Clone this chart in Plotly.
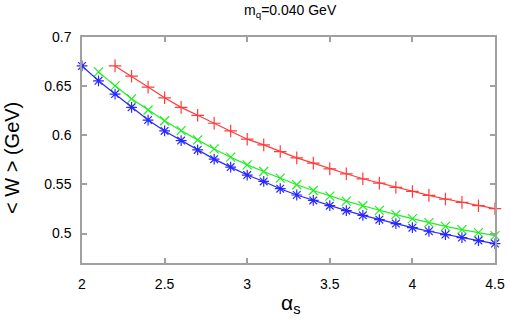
import plotly.graph_objects as go

alpha_blue = [2.0, 2.1, 2.2, 2.3, 2.4, 2.5, 2.6, 2.7, 2.8, 2.9, 3.0, 3.1, 3.2, 3.3, 3.4, 3.5, 3.6, 3.7, 3.8, 3.9, 4.0, 4.1, 4.2, 4.3, 4.4, 4.5]
w_blue = [0.6706, 0.6554, 0.6419, 0.6284, 0.6155, 0.6044, 0.5946, 0.5851, 0.5757, 0.5676, 0.5595,
          0.5530, 0.5456, 0.5392, 0.5337, 0.5283, 0.5233, 0.5185, 0.5141, 0.5101, 0.5060, 0.5023, 0.4989, 0.4959, 0.4928, 0.4898]

alpha_green = [2.1, 2.2, 2.3, 2.4, 2.5, 2.6, 2.7, 2.8, 2.9, 3.0, 3.1, 3.2, 3.3, 3.4, 3.5, 3.6, 3.7, 3.8, 3.9, 4.0, 4.1, 4.2, 4.3, 4.4, 4.5]
w_green = [0.6645, 0.6503, 0.6371, 0.6257, 0.6148, 0.6047, 0.5953, 0.5861, 0.5777, 0.5699,
           0.5631, 0.5564, 0.5496, 0.5438, 0.5381, 0.5330, 0.5283, 0.5236, 0.5192, 0.5151, 0.5111, 0.5073, 0.5040, 0.5009, 0.4979]

alpha_red = [2.2, 2.3, 2.4, 2.5, 2.6, 2.7, 2.8, 2.9, 3.0, 3.1, 3.2, 3.3, 3.4, 3.5, 3.6, 3.7, 3.8, 3.9, 4.0, 4.1, 4.2, 4.3, 4.4, 4.5]
w_red = [0.6706, 0.6601, 0.6490, 0.6381, 0.6284, 0.6203, 0.6122, 0.6044, 0.5960,
         0.5902, 0.5834, 0.5770, 0.5716, 0.5658, 0.5608, 0.5557, 0.5513, 0.5469, 0.5428, 0.5388, 0.5351, 0.5317, 0.5283, 0.5253]

x_ticks = [2, 2.5, 3, 3.5, 4, 4.5]
y_ticks = [0.5, 0.55, 0.6, 0.65, 0.7]

FONT = "Liberation Sans, Arial, sans-serif"

fig = go.Figure()

def add(xs, ys, color, symbol):
    fig.add_trace(go.Scatter(
        x=xs, y=ys, mode="lines+markers",
        line=dict(color=color, width=1.2),
        marker=dict(symbol=symbol, size=9, color=color, line=dict(color=color, width=1.2)),
        showlegend=False, cliponaxis=False,
    ))

add(alpha_red, w_red, "#ff3b3b", "cross-thin-open")
add(alpha_green, w_green, "#22ee22", "x-thin-open")
add(alpha_blue, w_blue, "#2828ff", "asterisk-open")

axis_common = dict(
    showline=True, linecolor="#a0a0a0", linewidth=1.5, mirror="ticks",
    ticks="inside", ticklen=5, tickcolor="#a0a0a0", tickwidth=1.5,
    showgrid=False, zeroline=False, automargin=False,
    tickfont=dict(family=FONT, size=14, color="black"),
)

fig.update_layout(
    width=510, height=326,
    margin=dict(l=82, r=15, t=37, b=63),
    paper_bgcolor="white", plot_bgcolor="white",
    font=dict(family=FONT, color="black"),
    xaxis=dict(range=[2, 4.5], tickvals=x_ticks, ticktext=[str(v) for v in x_ticks],
               ticklabelstandoff=7, **axis_common),
    yaxis=dict(range=[0.47, 0.7], tickvals=y_ticks, ticktext=[f"{v:g}" for v in y_ticks],
               ticklabelstandoff=6, **axis_common),
    annotations=[
        dict(text="m<sub>q</sub>=0.040 GeV", xref="paper", yref="paper",
             x=(290 - 82) / 413, y=(263 - 11) / 226, xanchor="center", yanchor="middle",
             showarrow=False, font=dict(size=14)),
        dict(text="< W > (GeV)", xref="paper", yref="paper", textangle=-90,
             x=(12 - 82) / 413, y=(263 - 158) / 226, xanchor="center", yanchor="middle",
             showarrow=False, font=dict(size=20)),
        dict(text="α<sub>s</sub>", xref="paper", yref="paper",
             x=(290 - 82) / 413, y=(263 - 304) / 226, xanchor="center", yanchor="middle",
             showarrow=False, font=dict(size=21)),
    ],
)

fig.write_html("out.html", config={"displayModeBar": False},
               post_script="document.body.style.margin='0';document.body.style.padding='0';")
